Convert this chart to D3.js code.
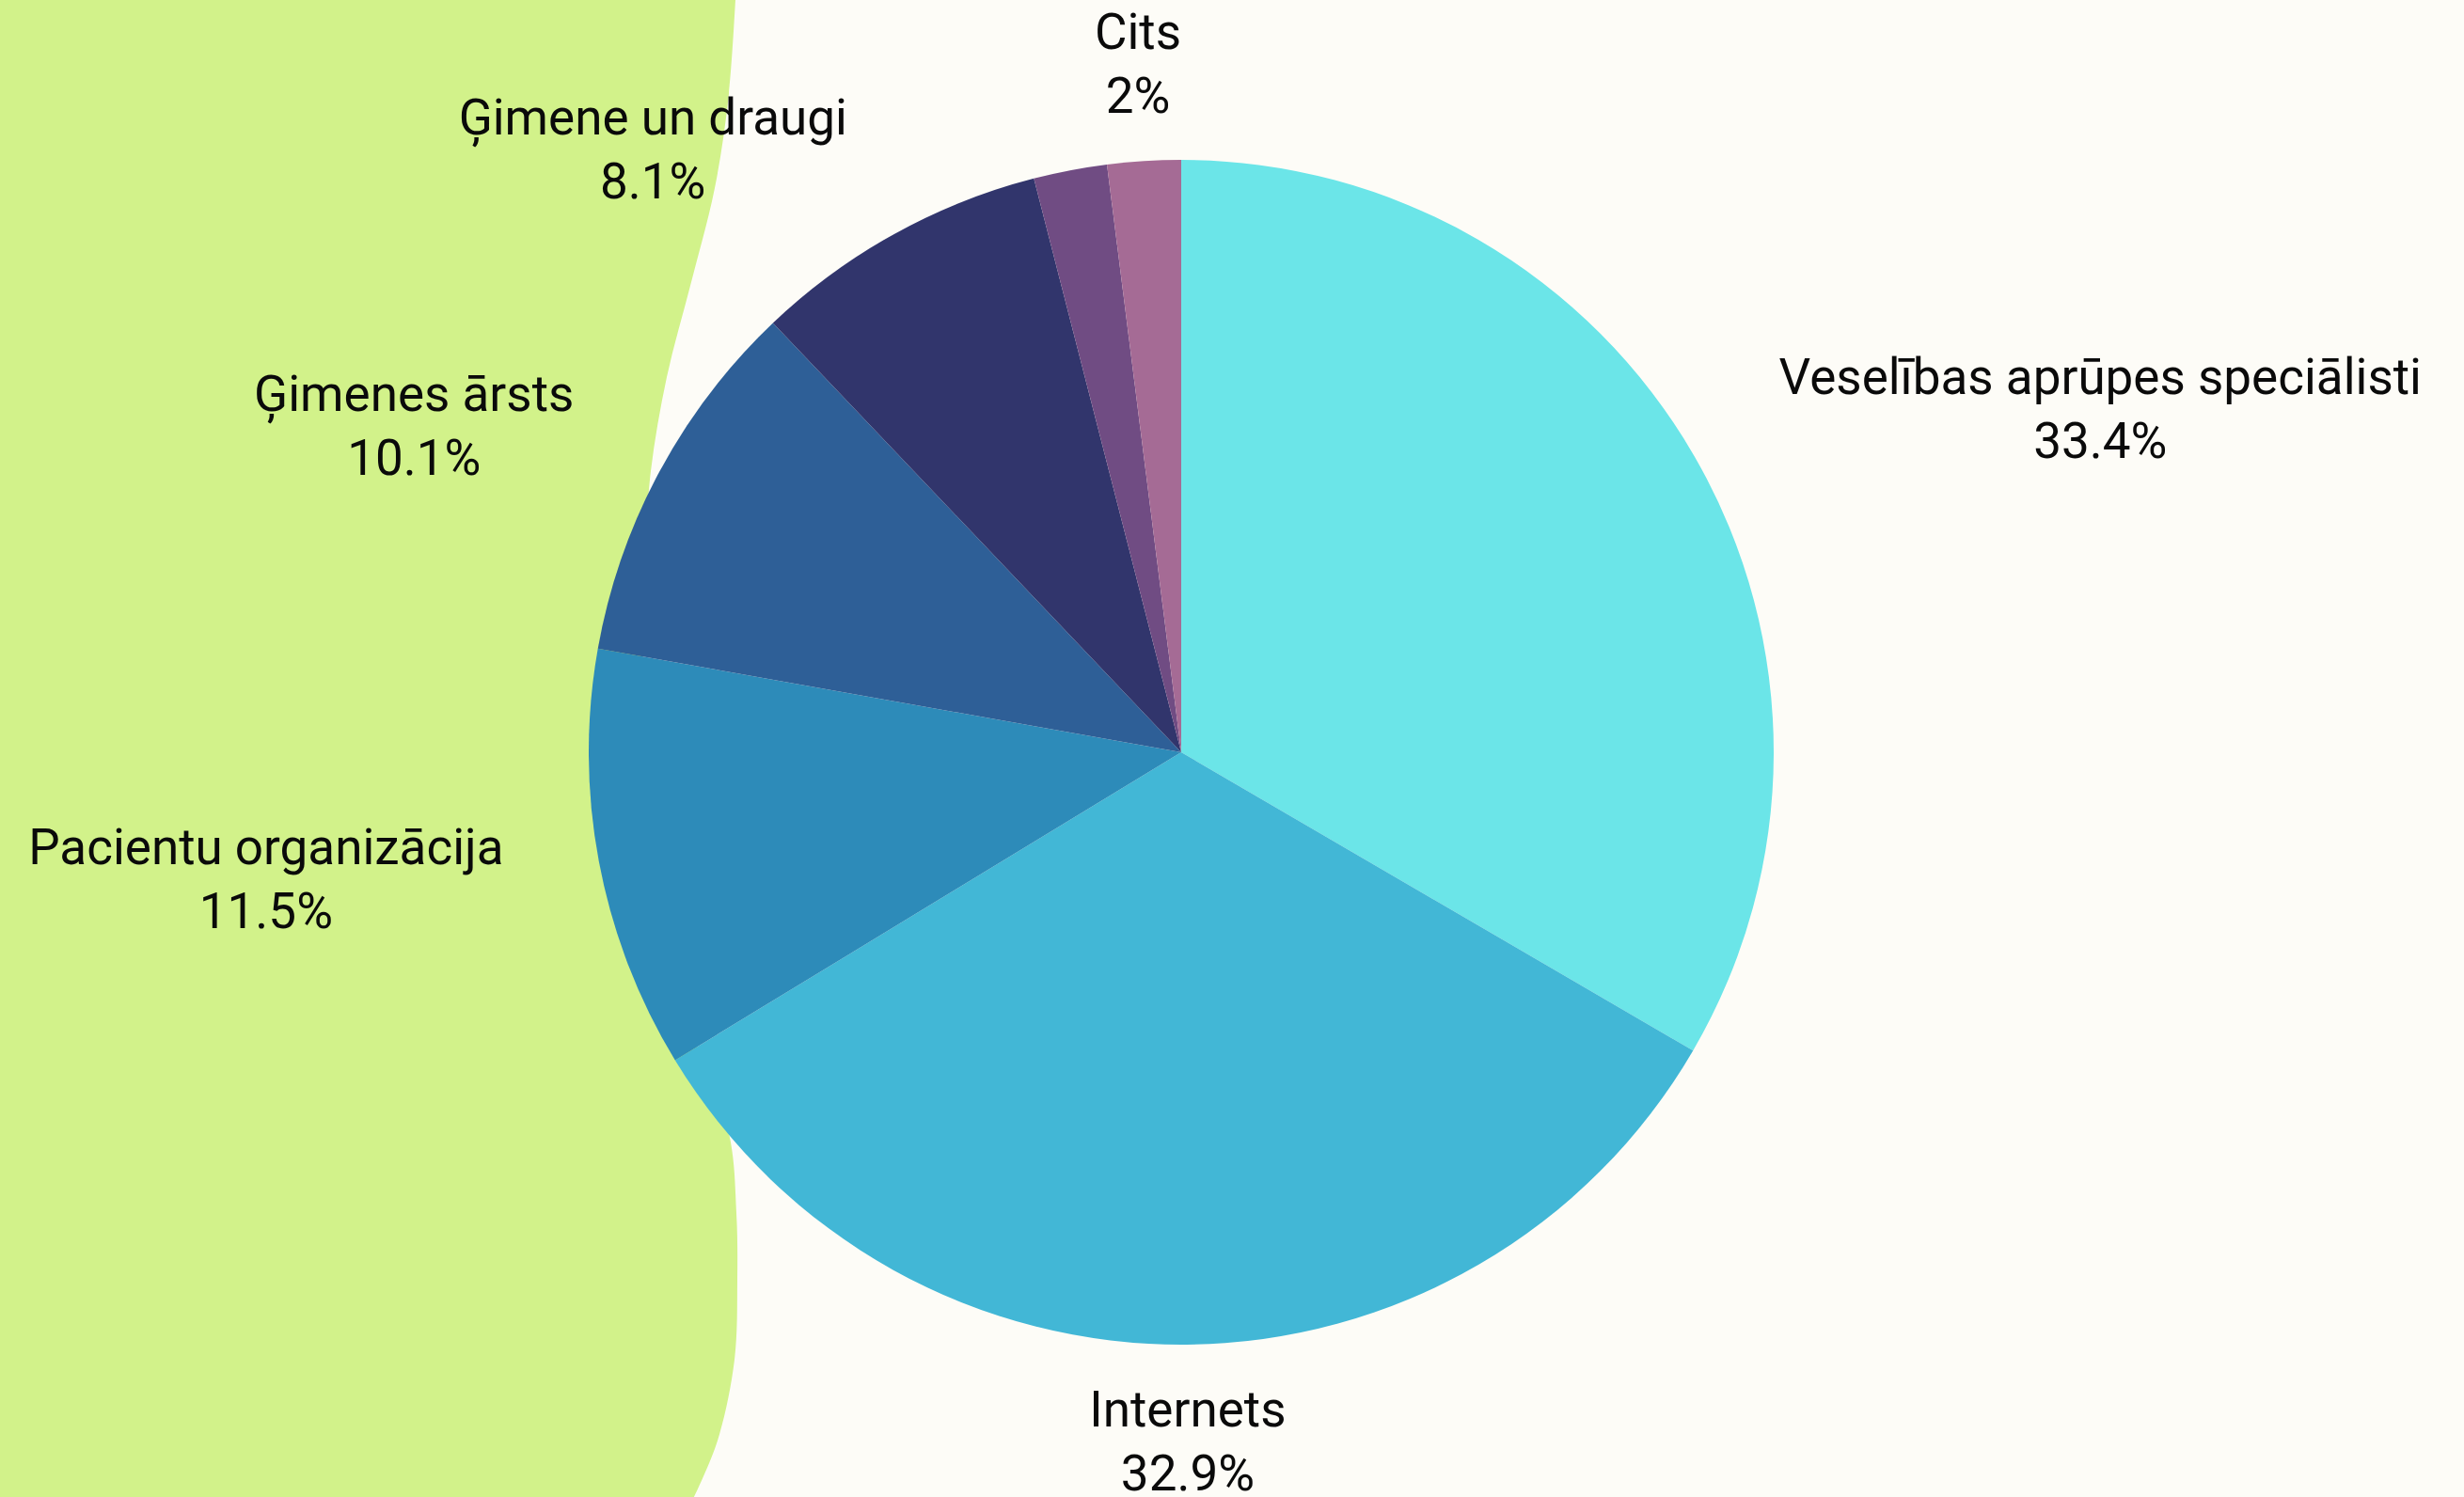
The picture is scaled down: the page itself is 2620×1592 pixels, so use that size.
<!DOCTYPE html>
<meta charset="utf-8">
<style>
body { margin: 0; background: #fdfcf7; }
.label { font-family: Roboto, "Open Sans", sans-serif; font-size: 53px; fill: #0a0a0a; }
</style>
<svg width="2620" height="1592"></svg>
<script src="https://d3js.org/d3.v7.min.js"></script>
<script>

// data, clockwise from 12 o'clock
var categories = ["Veselības aprūpes speciālisti", "Internets", "Pacientu organizācija",
                  "Ģimenes ārsts", "Ģimene un draugi", "", "Cits"];
var values = [33.4, 32.9, 11.5, 10.1, 8.1, 2.0, 2.0];
var colors = ["#6be5e8", "#42b7d6", "#2d8bb9", "#2e5f97", "#31356c", "#704c83", "#a56b95"];

var svg = d3.select("svg"),
    width = +svg.attr("width"),
    height = +svg.attr("height");

svg.append("rect")
    .attr("width", width)
    .attr("height", height)
    .attr("fill", "#fdfcf7");

// green backdrop shape on the left
var blob = [[782, 0], [775, 100], [760, 200], [735, 300], [709, 401], [692, 501], [685, 602],
            [684, 720], [692, 900], [730, 1080], [775, 1205], [783, 1290], [784, 1360],
            [781, 1446], [763, 1532], [738, 1592]];
svg.append("path")
    .attr("d", d3.line().curve(d3.curveCatmullRom)(blob) + "L0,1592L0,0Z")
    .attr("fill", "#d2f28a");

var cx = 1256, cy = 800, radius = 630, labelR = 733, lineH = 68;

var data = categories.map(function(c, i) { return {name: c, value: values[i], color: colors[i]}; });

var pie = d3.pie().sort(null).value(function(d) { return d.value; });
var arc = d3.arc().innerRadius(0).outerRadius(radius);

var g = svg.append("g").attr("transform", "translate(" + cx + "," + cy + ")");

var arcs = pie(data);

g.selectAll(".slice")
  .data(arcs)
  .enter().append("path")
    .attr("class", "slice")
    .attr("d", arc)
    .attr("fill", function(d) { return d.data.color; });

// two-line labels, lines centred on each other, block pushed outward from the pie
g.selectAll(".label")
  .data(arcs.filter(function(d) { return d.data.name; }))
  .enter().append("text")
    .attr("class", "label")
    .attr("text-anchor", "middle")
    .each(function(d) {
      var a = (d.startAngle + d.endAngle) / 2,
          s = Math.sin(a),
          x = labelR * s,
          y = -labelR * Math.cos(a);
      var t = d3.select(this);
      var l1 = t.append("tspan").attr("y", y - lineH / 2 + 18).text(d.data.name);
      var l2 = t.append("tspan").attr("y", y + lineH / 2 + 18).text(d3.format(".3~")(d.data.value) + "%");
      var w = Math.max(l1.node().getComputedTextLength(), l2.node().getComputedTextLength());
      var side = Math.abs(s) < 0.15 ? 0 : (s > 0 ? 1 : -1);
      l1.attr("x", x + side * w / 2);
      l2.attr("x", x + side * w / 2);
    });

</script>
